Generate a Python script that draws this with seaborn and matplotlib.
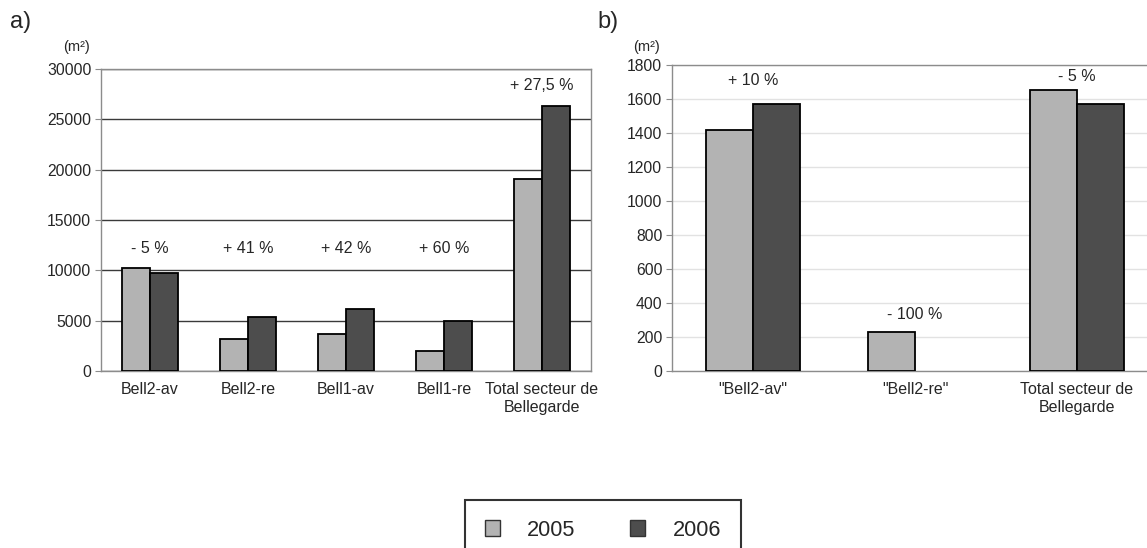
import numpy as np
import pandas as pd
import matplotlib
matplotlib.use('Agg')
import matplotlib.pyplot as plt
import seaborn as sns

sns.set_style('white')
plt.rcParams['font.family'] = ['Liberation Sans', 'DejaVu Sans']

years = ['2005', '2006']
colors = ['#b3b3b3', '#4d4d4d']

# panel a
cats_a = ['Bell2-av', 'Bell2-re', 'Bell1-av', 'Bell1-re', 'Total secteur de\nBellegarde']
vals_a_2005 = [10200, 3150, 3650, 1950, 19050]
vals_a_2006 = [9750, 5400, 6150, 4950, 26300]
notes_a = ['- 5 %', '+ 41 %', '+ 42 %', '+ 60 %', '+ 27,5 %']
notes_a_y = [12200, 12200, 12200, 12200, 28400]

# panel b
cats_b = ['"Bell2-av"', '"Bell2-re"', 'Total secteur de\nBellegarde']
vals_b_2005 = [1418, 232, 1650]
vals_b_2006 = [1570, 0, 1570]
notes_b = ['+ 10 %', '- 100 %', '- 5 %']
notes_b_y = [1710, 330, 1735]

df_a = pd.DataFrame({'cat': cats_a * 2, 'val': vals_a_2005 + vals_a_2006,
                     'year': [years[0]] * 5 + [years[1]] * 5})
df_b = pd.DataFrame({'cat': cats_b * 2, 'val': vals_b_2005 + vals_b_2006,
                     'year': [years[0]] * 3 + [years[1]] * 3})

fig = plt.figure(figsize=(11.47, 5.48), dpi=100)
ax1 = fig.add_axes([101 / 1147, 1 - 371 / 548, 490 / 1147, 302 / 548])
ax2 = fig.add_axes([672 / 1147, 1 - 371 / 548, 475 / 1147, 306 / 548])


def draw(ax, df, cats, ymax, ystep, grid_color, notes, notes_y):
    sns.barplot(data=df, x='cat', y='val', hue='year', order=cats, hue_order=years,
                palette=colors, width=0.58, gap=0, edgecolor='black', linewidth=1.3,
                saturation=1, legend=False, ax=ax, zorder=3)
    for p in ax.patches:
        if p.get_height() == 0:
            p.set_linewidth(0)
    ax.set_ylim(0, ymax)
    ax.set_yticks(np.arange(0, ymax + 1, ystep))
    ax.yaxis.grid(True, color=grid_color, linewidth=1, zorder=0)
    ax.set_axisbelow(True)
    ax.set_xlabel('')
    ax.set_ylabel('')
    for s in ax.spines.values():
        s.set_color('#8c8c8c')
        s.set_linewidth(1)
    ax.set_xticks(np.arange(len(cats) + 1) - 0.5, minor=True)
    ax.tick_params(axis='x', which='major', length=0, pad=8, labelsize=11.5)
    ax.tick_params(axis='x', which='minor', length=5, color='#c0c0c0', width=0.8)
    ax.tick_params(axis='y', length=4, color='#8c8c8c', labelsize=11.3, pad=3, left=True)
    for lab in ax.get_xticklabels():
        lab.set_horizontalalignment('center')
        lab.set_linespacing(1.2)
    for i, (t, y) in enumerate(zip(notes, notes_y)):
        ax.text(i, y, t, ha='center', va='center', fontsize=11.5)


draw(ax1, df_a, cats_a, 30000, 5000, '#3a3a3a', notes_a, notes_a_y)
draw(ax2, df_b, cats_b, 1800, 200, '#e2e2e2', notes_b, notes_b_y)
ax1.set_xlim(-0.5, 4.5)
ax2.set_xlim(-0.5, -0.5 + 475 / 162)
ax2.spines['right'].set_visible(False)

fig.text(10 / 1147, 1 - 22 / 548, 'a)', fontsize=17, va='center', ha='left')
fig.text(597 / 1147, 1 - 22 / 548, 'b)', fontsize=17, va='center', ha='left')
fig.text(77 / 1147, 1 - 47 / 548, '(m²)', fontsize=10.5, va='center', ha='center')
fig.text(646 / 1147, 1 - 47 / 548, '(m²)', fontsize=10.5, va='center', ha='center')

handles = [plt.Rectangle((0, 0), 1, 1, facecolor=c, edgecolor='#333333', linewidth=1) for c in colors]
leg = fig.legend(handles, years, loc='upper center', bbox_to_anchor=(603 / 1147, 1 - 500 / 548),
                 ncol=2, frameon=True, fancybox=False, fontsize=15.7, handlelength=0.7,
                 handleheight=0.7, handletextpad=1.25, columnspacing=2.5, borderpad=0.9,
                 borderaxespad=0)
leg.get_frame().set_edgecolor('black')
leg.get_frame().set_linewidth(1.5)

fig.savefig('out.png', dpi=100)
